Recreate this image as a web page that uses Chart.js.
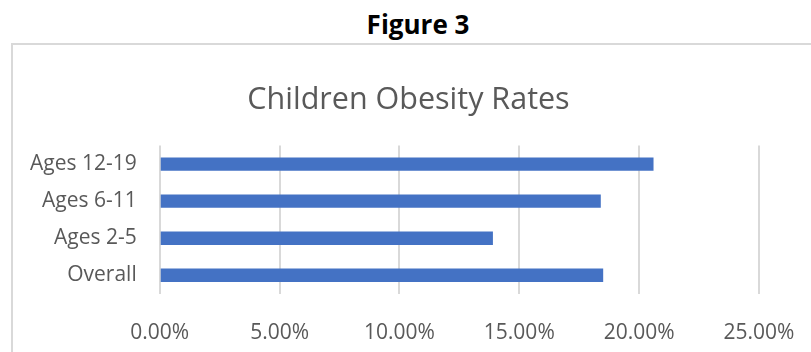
<!DOCTYPE html>
<html>
<head>
<meta charset="utf-8">
<script src="https://cdn.jsdelivr.net/npm/chart.js@4/dist/chart.umd.min.js"></script>
<style>
    body { margin: 0; background: #fff; width: 811px; height: 352px; overflow: hidden; position: relative; font-family: 'Open Sans', sans-serif; }
    .fig-title { position: absolute; left: 0; top: 6px; width: 836px; text-align: center; font-weight: bold; font-size: 26px; line-height: 36px; color: #000; }
    .box { position: absolute; left: 11px; top: 43px; width: 820px; height: 320px; border-left: 2px solid #d9d9d9; border-top: 2px solid #d9d9d9; }
    .chart-wrap { position: absolute; left: 0; top: 0; width: 811px; height: 400px; }
</style>
</head>
<body>
<div class="fig-title">Figure 3</div>
<div class="box"></div>
<div class="chart-wrap"><canvas id="obesityChart"></canvas></div>
<script>
const categories = ['Ages 12-19', 'Ages 6-11', 'Ages 2-5', 'Overall'];
const rates = [20.6, 18.4, 13.9, 18.5];
const xTicks = [0, 5, 10, 15, 20, 25];

const app = {
    init: function () {
        const ctx = document.getElementById('obesityChart');
        new Chart(ctx, {
            type: 'bar',
            data: {
                labels: categories,
                datasets: [{
                    data: rates,
                    backgroundColor: '#4472c4',
                    borderWidth: 0,
                    categoryPercentage: 1,
                    barPercentage: 0.36
                }]
            },
            options: {
                indexAxis: 'y',
                responsive: true,
                maintainAspectRatio: false,
                animation: false,
                layout: { padding: { left: 7, right: 1, top: 0, bottom: 27 } },
                plugins: {
                    legend: { display: false },
                    tooltip: { enabled: false },
                    title: {
                        display: true,
                        text: 'Children Obesity Rates',
                        color: '#595959',
                        font: { family: 'Open Sans', size: 30.5, weight: 'normal' },
                        padding: { top: 82, bottom: 27 }
                    }
                },
                scales: {
                    x: {
                        min: xTicks[0],
                        max: xTicks[xTicks.length - 1],
                        afterBuildTicks: axis => { axis.ticks = xTicks.map(v => ({ value: v })); },
                        // keep room on the right like the original plot
                        afterFit: axis => { axis.paddingRight = 52; },
                        grid: { color: '#d9d9d9', lineWidth: 2, drawTicks: false },
                        border: { display: false },
                        ticks: {
                            color: '#595959',
                            padding: 27,
                            font: { family: 'Open Sans', size: 21 },
                            callback: v => v.toFixed(2) + '%'
                        }
                    },
                    y: {
                        grid: { display: false, drawTicks: false },
                        border: { display: false },
                        ticks: {
                            color: '#595959',
                            padding: 23,
                            font: { family: 'Open Sans', size: 21 }
                        }
                    }
                }
            }
        });
    }
};

document.addEventListener('DOMContentLoaded', () => {
    app.init();
});
</script>
</body>
</html>
